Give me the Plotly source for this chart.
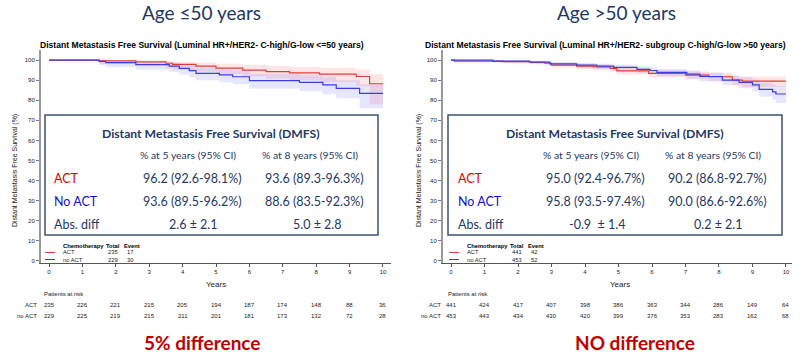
import plotly.graph_objects as go

W, H = 808, 354
def px(x): return x / W
def py(y): return 1 - y / H

# ---------------- data ----------------
years = list(range(0, 11))

# Left panel (age <=50)
L_act_t  = [0, 1.5, 2.6, 3.5, 3.7, 4.4, 5.0, 5.8, 6.5, 7.2, 8.1, 9.2, 9.6, 10.0]
L_act_s  = [100, 99.6, 99.1, 98.4, 97.8, 97.0, 96.0, 95.0, 94.2, 93.6, 93.0, 91.8, 88.2, 88.2]
L_act_lo = [100, 98.0, 97.0, 96.0, 95.2, 94.2, 93.0, 91.8, 90.8, 90.0, 89.0, 87.0, 78.0, 78.0]
L_act_hi = [100, 99.9, 99.8, 99.5, 99.2, 98.8, 98.2, 97.6, 97.0, 96.6, 96.2, 95.4, 93.0, 93.0]

L_no_t  = [0, 1.5, 1.7, 2.6, 3.6, 3.9, 4.2, 4.4, 5.1, 5.5, 6.0, 7.5, 8.2, 8.6, 9.3, 10.0]
L_no_s  = [100, 99.3, 98.7, 97.7, 97.0, 95.9, 94.7, 93.4, 92.6, 91.7, 89.8, 88.9, 87.6, 85.9, 83.4, 83.4]
L_no_lo = [100, 97.5, 96.5, 95.2, 94.2, 92.8, 91.4, 90.0, 89.0, 88.0, 85.8, 84.6, 83.0, 81.0, 76.0, 76.0]
L_no_hi = [100, 99.9, 99.6, 99.0, 98.6, 97.8, 97.0, 96.0, 95.4, 94.8, 93.2, 92.4, 91.4, 90.0, 88.0, 88.0]

# Right panel (age >50)
R_act_t  = [0, 0.1, 1.55, 2.35, 2.8, 3.0, 3.75, 4.25, 4.75, 4.95, 5.9, 7.0, 7.7, 8.4, 8.7, 10.0]
R_act_s  = [100, 99.5, 99.2, 98.9, 98.4, 97.5, 97.0, 96.6, 95.9, 94.6, 93.4, 92.5, 91.7, 90.0, 89.5, 89.5]
R_act_lo = [100, 98.8, 98.4, 97.9, 97.3, 96.3, 95.6, 95.0, 94.2, 92.8, 91.4, 90.4, 89.4, 87.4, 86.6, 86.6]
R_act_hi = [100, 99.9, 99.7, 99.5, 99.2, 98.6, 98.2, 97.8, 97.2, 96.2, 95.1, 94.3, 93.6, 92.2, 91.8, 91.8]

R_no_t  = [0, 1.25, 2.35, 2.95, 3.75, 4.35, 4.85, 5.55, 5.94, 6.15, 7.04, 7.43, 8.1, 8.6, 9.0, 9.2, 9.6, 9.7, 10.0]
R_no_s  = [100, 99.5, 99.0, 98.1, 97.5, 97.0, 96.4, 95.4, 94.8, 93.9, 93.0, 91.8, 90.0, 88.9, 87.6, 85.4, 84.2, 83.1, 83.1]
R_no_lo = [100, 98.8, 98.1, 97.0, 96.2, 95.6, 94.8, 93.6, 92.9, 91.9, 90.8, 89.4, 87.4, 86.0, 84.4, 81.8, 80.2, 78.6, 77.5]
R_no_hi = [100, 99.9, 99.6, 99.0, 98.5, 98.1, 97.6, 96.8, 96.3, 95.5, 94.8, 93.8, 92.3, 91.5, 90.4, 88.7, 87.8, 87.0, 87.0]

L_risk_act = [235, 226, 221, 215, 205, 194, 187, 174, 148, 88, 36]
L_risk_no  = [229, 225, 219, 215, 211, 201, 181, 173, 132, 72, 28]
R_risk_act = [441, 424, 417, 407, 398, 386, 363, 344, 286, 149, 64]
R_risk_no  = [453, 443, 434, 430, 420, 399, 376, 353, 283, 162, 68]

L_totals = [("ACT", 235, 17), ("no ACT", 229, 30)]
R_totals = [("ACT", 441, 42), ("no ACT", 453, 52)]

L_table = {"ACT": ["96.2 (92.6-98.1%)", "93.6 (89.3-96.3%)"],
           "No ACT": ["93.6 (89.5-96.2%)", "88.6 (83.5-92.3%)"],
           "Abs. diff": ["2.6 ± 2.1", "5.0 ± 2.8"]}
R_table = {"ACT": ["95.0 (92.4-96.7%)", "90.2 (86.8-92.7%)"],
           "No ACT": ["95.8 (93.5-97.4%)", "90.0 (86.6-92.6%)"],
           "Abs. diff": ["-0.9  ± 1.4", "0.2 ± 2.1"]}

RED = "rgb(225,60,60)"
BLUE = "rgb(60,60,225)"
RED_F = "rgba(255,80,80,0.15)"
BLUE_F = "rgba(90,90,255,0.15)"
NAVY = "#1F3864"
CAL = "Lato, 'Open Sans', sans-serif"
ARI = "'Liberation Sans', Arial, sans-serif"

fig = go.Figure()

def add_group(t, s, lo, hi, col, fcol, xa, ya):
    fig.add_trace(go.Scatter(x=t, y=lo, mode="lines", line=dict(width=0, shape="hv"),
                             xaxis=xa, yaxis=ya, showlegend=False, hoverinfo="skip"))
    fig.add_trace(go.Scatter(x=t, y=hi, mode="lines", line=dict(width=0, shape="hv"),
                             fill="tonexty", fillcolor=fcol,
                             xaxis=xa, yaxis=ya, showlegend=False, hoverinfo="skip"))

add_group(L_act_t, L_act_s, L_act_lo, L_act_hi, RED, RED_F, "x", "y")
add_group(L_no_t, L_no_s, L_no_lo, L_no_hi, BLUE, BLUE_F, "x", "y")
add_group(R_act_t, R_act_s, R_act_lo, R_act_hi, RED, RED_F, "x2", "y2")
add_group(R_no_t, R_no_s, R_no_lo, R_no_hi, BLUE, BLUE_F, "x2", "y2")
for t, s, col, xa, ya in [(L_act_t, L_act_s, RED, "x", "y"), (L_no_t, L_no_s, BLUE, "x", "y"),
                          (R_act_t, R_act_s, RED, "x2", "y2"), (R_no_t, R_no_s, BLUE, "x2", "y2")]:
    fig.add_trace(go.Scatter(x=t, y=s, mode="lines", line=dict(width=1.2, shape="hv", color=col),
                             xaxis=xa, yaxis=ya, showlegend=False))

ax_common = dict(showgrid=False, zeroline=False, showline=True, ticks="outside", ticklen=3,
                 tickfont=dict(size=6, family=ARI, color="#222"))
ydom = [py(263), py(50)]
fig.update_layout(
    width=W, height=H, margin=dict(l=0, r=0, t=0, b=0),
    paper_bgcolor="white", plot_bgcolor="white",
    xaxis=dict(domain=[px(41), px(391)], range=[-0.24, 10.24], anchor="y", tickvals=years,
               linecolor="#555", linewidth=1.2, tickcolor="#555", **ax_common),
    yaxis=dict(domain=ydom, range=[-1, 105], anchor="x", tickvals=list(range(0, 101, 10)),
               linecolor="#999", linewidth=2, tickcolor="#777", **ax_common),
    xaxis2=dict(domain=[px(443), px(792)], range=[-0.24, 10.18], anchor="y2", tickvals=years,
                linecolor="#555", linewidth=1.2, tickcolor="#555", **ax_common),
    yaxis2=dict(domain=ydom, range=[-1, 105], anchor="x2", tickvals=list(range(0, 101, 10)),
                linecolor="#999", linewidth=2, tickcolor="#777", **ax_common),
)

ann = []
shapes = []
def T(x, y, text, size, color="black", family=CAL, xanchor="center", bold=False, xref="paper", **kw):
    if bold:
        text = "<b>" + text + "</b>"
    ann.append(dict(x=x, y=y, xref=xref, yref="paper", text=text, showarrow=False,
                    font=dict(size=size, color=color, family=family),
                    xanchor=xanchor, yanchor="middle", **kw))

panels = [
    dict(off=0, xr="x", head="Age ≤50 years", hx=201,
         title="Distant Metastasis Free Survival (Luminal HR+/HER2- C-high/G-low <=50 years)", tx=202,
         table=L_table, c1h=188, c2h=310, c1=192, c2=314, d1=193, d2=317,
         box=(45, 378), tot=L_totals, rk=(L_risk_act, L_risk_no), bottom="5% difference", bx=202),
    dict(off=404, xr="x2", head="Age >50 years", hx=616,
         title="Distant Metastasis Free Survival (Luminal HR+/HER2- subgroup C-high/G-low >50 years)", tx=605,
         table=R_table, c1h=591, c2h=713, c1=595, c2=717, d1=597, d2=718,
         box=(448, 782), tot=R_totals, rk=(R_risk_act, R_risk_no), bottom="NO difference", bx=635),
]

for p in panels:
    o = p["off"]
    T(px(p["hx"]), py(12), p["head"], 19, NAVY)
    T(px(p["tx"]), py(45), p["title"], 8.6, "black", ARI, bold=True)
    T(px(o + 15), py(171), "Distant Metastasis Free Survival (%)", 7, "#222", ARI, textangle=-90)
    # table box
    bx0, bx1 = p["box"]
    shapes.append(dict(type="rect", xref="paper", yref="paper", x0=px(bx0), x1=px(bx1),
                       y0=py(235), y1=py(115), line=dict(color="#3A5275", width=1.5),
                       fillcolor="white", layer="above"))
    T(px(o + 211), py(133), "Distant Metastasis Free Survival (DMFS)", 12.2, NAVY, bold=True)
    T(px(p["c1h"] ), py(155), "% at 5 years (95% CI)", 10.4, NAVY)
    T(px(p["c2h"]), py(155), "% at 8 years (95% CI)", 10.4, NAVY)
    rows = [("ACT", 179, "#E00000"), ("No ACT", 201, "#1010CC"), ("Abs. diff", 224, NAVY)]
    for name, yy, col in rows:
        T(px(o + 52), py(yy), name, 12.5, col, xanchor="left")
        v1, v2 = p["table"][name]
        if name == "Abs. diff":
            T(px(p["d1"]), py(yy), v1, 12.5, NAVY)
            T(px(p["d2"]), py(yy), v2, 12.5, NAVY)
        else:
            T(px(p["c1"]), py(yy), v1, 12.5, NAVY)
            T(px(p["c2"]), py(yy), v2, 12.5, NAVY)
    # legend
    T(px(o + 61), py(246), "Chemotherapy", 5.8, "black", ARI, xanchor="left", bold=True)
    T(px(o + 104), py(246), "Total", 5.8, "black", ARI, xanchor="left", bold=True)
    T(px(o + 122), py(246), "Event", 5.8, "black", ARI, xanchor="left", bold=True)
    for (name, tot, ev), yy, col in zip(p["tot"], (252.5, 259.5), (RED, BLUE)):
        shapes.append(dict(type="line", xref="paper", yref="paper", x0=px(o + 45), x1=px(o + 55),
                           y0=py(yy), y1=py(yy), line=dict(color=col, width=1)))
        T(px(o + 61), py(yy), name, 5.8, "#222", ARI, xanchor="left")
        T(px(o + 113), py(yy), str(tot), 5.8, "#222", ARI)
        T(px(o + 130), py(yy), str(ev), 5.8, "#222", ARI)
    # x title
    T(px(o + 216), py(284.5), "Years", 8, "#222", ARI)
    # risk table
    T(px(o + 42), py(294), "Patients at risk", 6, "#222", ARI, xanchor="left")
    T(px(o + 39), py(305), "ACT", 6, "#222", ARI, xanchor="right")
    T(px(o + 39), py(316), "no ACT", 6, "#222", ARI, xanchor="right")
    ra, rn = p["rk"]
    for yv, a, b in zip(years, ra, rn):
        T(yv, py(305), str(a), 6, "#222", ARI, xref=p["xr"])
        T(yv, py(316), str(b), 6, "#222", ARI, xref=p["xr"])
    T(px(p["bx"]), py(342), p["bottom"], 19, "#C00000", bold=True)

fig.update_layout(annotations=ann, shapes=shapes)
fig.write_html("out.html")
